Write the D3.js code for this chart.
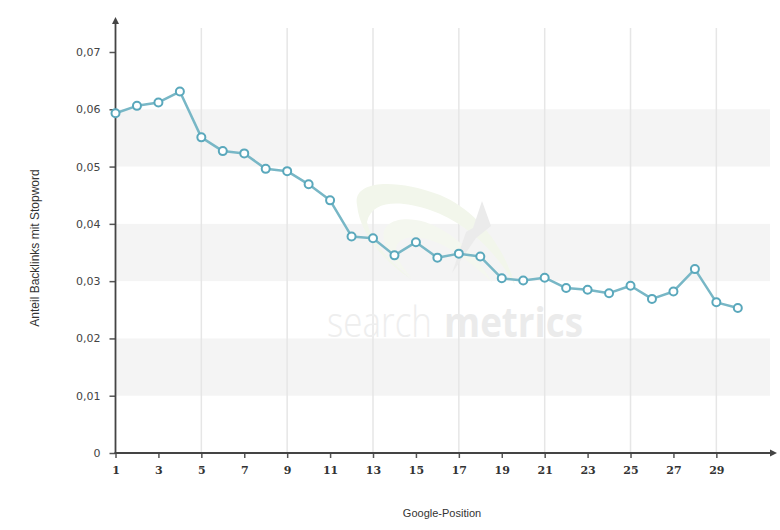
<!DOCTYPE html>
<html>
<head>
<meta charset="utf-8">
<script src="https://cdn.jsdelivr.net/npm/d3@7"></script>
<style>
  html, body { margin: 0; padding: 0; background: #fff; }
  svg { display: block; }
</style>
</head>
<body>
<svg id="chart" width="780" height="530"></svg>
<script>
const positions = [1,2,3,4,5,6,7,8,9,10,11,12,13,14,15,16,17,18,19,20,21,22,23,24,25,26,27,28,29,30];
const shares = [0.0593,0.0606,0.0612,0.0631,0.0551,0.0527,0.0523,0.0496,0.0492,0.0469,0.0441,0.0378,0.0375,0.0345,0.0368,0.0341,0.0348,0.0343,0.0305,0.0301,0.0306,0.0288,0.0285,0.0279,0.0292,0.0269,0.0282,0.0321,0.0263,0.0253];
const xTicks = [1,3,5,7,9,11,13,15,17,19,21,23,25,27,29];
const xGridTicks = [5,9,13,17,21,25,29];
const yTicks = [0,0.01,0.02,0.03,0.04,0.05,0.06,0.07];
const yTickLabels = ["0","0,01","0,02","0,03","0,04","0,05","0,06","0,07"];
const bandRanges = [[0.01,0.02],[0.03,0.04],[0.05,0.06]];
const xTitle = "Google-Position";
const yTitle = "Anteil Backlinks mit Stopword";

(function () {
const svg = d3.select("#chart");
const mLeft = 115.5, mBottom = 453, mRight = 770, mTop = 28;

const x = d3.scaleLinear().domain([1, 31.5]).range([mLeft, mRight]);
const y = d3.scaleLinear().domain([0, 0.07]).range([mBottom, 52]);

// bands
svg.append("g").selectAll("rect").data(bandRanges).join("rect")
  .attr("x", mLeft).attr("width", mRight - mLeft)
  .attr("y", d => y(d[1])).attr("height", d => y(d[0]) - y(d[1]))
  .attr("fill", "#f4f4f4");

// vertical grid
svg.append("g").selectAll("line").data(xGridTicks).join("line")
  .attr("x1", d => x(d)).attr("x2", d => x(d))
  .attr("y1", mTop).attr("y2", mBottom)
  .attr("stroke", "#e6e6e6").attr("stroke-width", 1.5);

// watermark
const wm = svg.append("g").attr("class", "watermark");
wm.append("path")
  .attr("d", "M357,205 C352,180 395,178 440,195 C480,212 505,250 515,285 C495,250 465,222 430,210 C400,200 372,200 367,222 C372,245 395,265 412,280 C385,262 360,235 357,205 Z")
  .attr("fill", "#f2f6eb");
wm.append("path")
  .attr("d", "M384,240 C380,222 400,215 425,222 C455,232 478,258 492,282 C470,262 450,246 430,240 C410,234 395,238 396,252 C398,262 405,270 412,278 C398,268 387,255 384,240 Z")
  .attr("fill", "#f4f7ef");
wm.append("path")
  .attr("d", "M482,201 L491,226 L476,238 L452,273 L466,232 L473,228 Z")
  .attr("fill", "#ebebeb");
wm.append("text")
  .attr("x", 327).attr("y", 337)
  .attr("font-family", "'Open Sans', 'DejaVu Sans', sans-serif")
  .attr("font-size", 42).attr("font-weight", 300)
  .attr("fill", "#eeeeee")
  .attr("textLength", 105).attr("lengthAdjust", "spacingAndGlyphs")
  .text("search");
wm.append("text")
  .attr("x", 444).attr("y", 337)
  .attr("font-family", "'Open Sans', 'DejaVu Sans', sans-serif")
  .attr("font-size", 42).attr("font-weight", 700)
  .attr("fill", "#ebebeb")
  .attr("textLength", 139).attr("lengthAdjust", "spacingAndGlyphs")
  .text("metrics");

// y axis
const yAxis = d3.axisLeft(y).tickValues(yTicks).tickSize(6).tickPadding(9)
  .tickFormat((d, i) => yTickLabels[i]);
const gy = svg.append("g").attr("transform", `translate(${mLeft},0)`).call(yAxis);
gy.select(".domain").remove();
gy.selectAll(".tick line").attr("stroke", "#555").attr("stroke-width", 1.5);
gy.selectAll(".tick text").attr("fill", "#444")
  .attr("font-family", "'DejaVu Sans', Verdana, sans-serif").attr("font-size", 11);

// x axis
const xAxis = d3.axisBottom(x).tickValues(xTicks).tickSize(5).tickPadding(8)
  .tickFormat(d => String(d));
const gx = svg.append("g").attr("transform", `translate(0,${mBottom})`).call(xAxis);
gx.select(".domain").remove();
gx.selectAll(".tick line").attr("stroke", "#555").attr("stroke-width", 1.5);
gx.selectAll(".tick text").attr("fill", "#333")
  .attr("font-family", "'DejaVu Serif', Georgia, serif").attr("font-weight", "bold").attr("font-size", 11);

// axis lines with arrows
svg.append("line").attr("x1", mLeft).attr("x2", mLeft).attr("y1", 22).attr("y2", mBottom + 1)
  .attr("stroke", "#444").attr("stroke-width", 1.8);
svg.append("path").attr("d", `M${mLeft - 3.5},24 L${mLeft},17 L${mLeft + 3.5},24 Z`).attr("fill", "#444");
svg.append("line").attr("x1", mLeft - 1).attr("x2", mRight + 2).attr("y1", mBottom).attr("y2", mBottom)
  .attr("stroke", "#444").attr("stroke-width", 1.8);
svg.append("path").attr("d", `M${mRight},${mBottom - 3.5} L${mRight + 7},${mBottom} L${mRight},${mBottom + 3.5} Z`).attr("fill", "#444");

// line
const data = positions.map((p, i) => ({ p, v: shares[i] }));
svg.append("path").datum(data)
  .attr("d", d3.line().x(d => x(d.p)).y(d => y(d.v)))
  .attr("fill", "none").attr("stroke", "#78b7c6").attr("stroke-width", 2.5)
  .attr("stroke-linejoin", "round");
svg.append("g").selectAll("circle").data(data).join("circle")
  .attr("cx", d => x(d.p)).attr("cy", d => y(d.v)).attr("r", 4)
  .attr("fill", "#fff").attr("stroke", "#5aa8bc").attr("stroke-width", 2);

// titles
svg.append("text").attr("x", 442).attr("y", 517).attr("text-anchor", "middle")
  .attr("font-family", "'Liberation Sans', Arial, sans-serif").attr("font-size", 11).attr("fill", "#333")
  .text(xTitle);
svg.append("text").attr("transform", "translate(39,248) rotate(-90)").attr("text-anchor", "middle")
  .attr("font-family", "'Liberation Sans', Arial, sans-serif").attr("font-size", 12).attr("fill", "#333")
  .text(yTitle);
})();
</script>
</body>
</html>
